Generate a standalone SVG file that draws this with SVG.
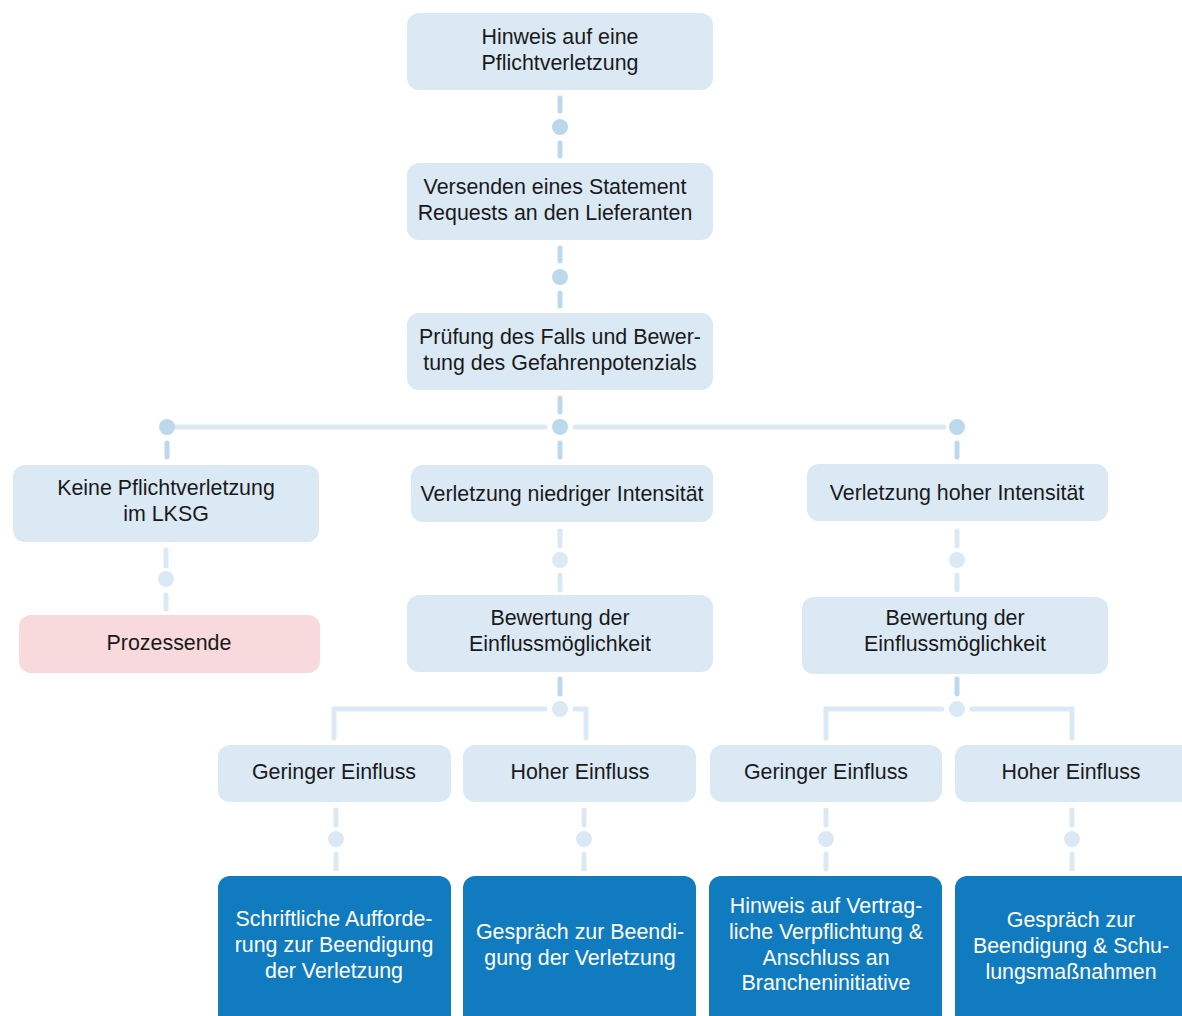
<svg xmlns="http://www.w3.org/2000/svg" width="1182" height="1016" viewBox="0 0 1182 1016">
<style>
.b{fill:#dbe9f5}
.e{fill:#f8dadd}
.d{fill:#117bc0}
.t{font-family:"Liberation Sans",Arial,sans-serif;font-size:21.4px;fill:#1a1a1a;text-anchor:middle}
.w{fill:#ffffff}
.ld{stroke:#bcd9ec;stroke-width:5;stroke-linecap:round;fill:none}
.ll{stroke:#dbe9f5;stroke-width:5;stroke-linecap:round;fill:none}
.cd{fill:#bcd9ec}
.cl{fill:#dbe9f5}
</style>
<rect width="1182" height="1016" fill="#ffffff"/>
<g id="connectors">
<line class="ld" x1="560" y1="98" x2="560" y2="111"/>
<circle class="cd" cx="560" cy="127" r="8"/>
<line class="ld" x1="560" y1="143" x2="560" y2="156"/>
<line class="ld" x1="560" y1="248" x2="560" y2="261"/>
<circle class="cd" cx="560" cy="277" r="8"/>
<line class="ld" x1="560" y1="293" x2="560" y2="306"/>
<line class="ld" x1="560" y1="398" x2="560" y2="412"/>
<line class="ll" x1="175" y1="427" x2="545" y2="427"/>
<line class="ll" x1="575" y1="427" x2="944" y2="427"/>
<circle class="cd" cx="167" cy="427" r="8"/>
<circle class="cd" cx="560" cy="427" r="8"/>
<circle class="cd" cx="957" cy="427" r="8"/>
<line class="ld" x1="167" y1="443" x2="167" y2="457"/>
<line class="ld" x1="560" y1="443" x2="560" y2="457"/>
<line class="ld" x1="957" y1="443" x2="957" y2="457"/>
<line class="ll" x1="166" y1="550" x2="166" y2="566"/>
<circle class="cl" cx="166" cy="579" r="8"/>
<line class="ll" x1="166" y1="595" x2="166" y2="609"/>
<line class="ll" x1="560" y1="531" x2="560" y2="546"/>
<circle class="cl" cx="560" cy="560" r="8"/>
<line class="ll" x1="560" y1="575" x2="560" y2="590"/>
<line class="ll" x1="957" y1="531" x2="957" y2="546"/>
<circle class="cl" cx="957" cy="560" r="8"/>
<line class="ll" x1="957" y1="575" x2="957" y2="590"/>
<line class="ld" x1="560" y1="679" x2="560" y2="694"/>
<circle class="cl" cx="560" cy="709" r="8"/>
<polyline class="ll" points="334,738 334,709 545,709"/>
<polyline class="ll" points="575,709 586,709 586,738"/>
<line class="ld" x1="957" y1="679" x2="957" y2="694"/>
<circle class="cl" cx="957" cy="709" r="8"/>
<polyline class="ll" points="826,738 826,709 942,709"/>
<polyline class="ll" points="972,709 1072,709 1072,738"/>
<line class="ll" x1="336" y1="810" x2="336" y2="825"/>
<circle class="cl" cx="336" cy="839" r="8"/>
<line class="ll" x1="336" y1="854" x2="336" y2="869"/>
<line class="ll" x1="584" y1="810" x2="584" y2="825"/>
<circle class="cl" cx="584" cy="839" r="8"/>
<line class="ll" x1="584" y1="854" x2="584" y2="869"/>
<line class="ll" x1="826" y1="810" x2="826" y2="825"/>
<circle class="cl" cx="826" cy="839" r="8"/>
<line class="ll" x1="826" y1="854" x2="826" y2="869"/>
<line class="ll" x1="1072" y1="810" x2="1072" y2="825"/>
<circle class="cl" cx="1072" cy="839" r="8"/>
<line class="ll" x1="1072" y1="854" x2="1072" y2="869"/>
</g>
<g id="n1"><rect class="b" x="407" y="13" width="306" height="77" rx="12"/><text class="t" x="560" y="44">Hinweis auf eine</text><text class="t" x="560" y="70">Pflichtverletzung</text></g>
<g id="n2"><rect class="b" x="407" y="163" width="306" height="77" rx="12"/><text class="t" x="555" y="194">Versenden eines Statement</text><text class="t" x="555" y="220">Requests an den Lieferanten</text></g>
<g id="n3"><rect class="b" x="407" y="313" width="306" height="77" rx="12"/><text class="t" x="560" y="344">Prüfung des Falls und Bewer-</text><text class="t" x="560" y="370">tung des Gefahrenpotenzials</text></g>
<g id="n4"><rect class="b" x="13" y="465" width="306" height="77" rx="12"/><text class="t" x="166" y="495">Keine Pflichtverletzung</text><text class="t" x="166" y="521">im LKSG</text></g>
<g id="n5"><rect class="b" x="411" y="465" width="302" height="57" rx="12"/><text class="t" x="562" y="501">Verletzung niedriger Intensität</text></g>
<g id="n6"><rect class="b" x="807" y="464" width="301" height="57" rx="12"/><text class="t" x="957" y="500">Verletzung hoher Intensität</text></g>
<g id="n7"><rect class="e" x="19" y="615" width="301" height="58" rx="12"/><text class="t" x="169" y="650">Prozessende</text></g>
<g id="n8"><rect class="b" x="407" y="595" width="306" height="77" rx="12"/><text class="t" x="560" y="625">Bewertung der</text><text class="t" x="560" y="651">Einflussmöglichkeit</text></g>
<g id="n9"><rect class="b" x="802" y="597" width="306" height="77" rx="12"/><text class="t" x="955" y="625">Bewertung der</text><text class="t" x="955" y="651">Einflussmöglichkeit</text></g>
<g id="n10"><rect class="b" x="218" y="745" width="233" height="57" rx="12"/><text class="t" x="334" y="779">Geringer Einfluss</text></g>
<g id="n11"><rect class="b" x="463" y="745" width="233" height="57" rx="12"/><text class="t" x="580" y="779">Hoher Einfluss</text></g>
<g id="n12"><rect class="b" x="710" y="745" width="232" height="57" rx="12"/><text class="t" x="826" y="779">Geringer Einfluss</text></g>
<g id="n13"><rect class="b" x="955" y="745" width="240" height="57" rx="12"/><text class="t" x="1071" y="779">Hoher Einfluss</text></g>
<g id="n14"><rect class="d" x="218" y="876" width="233" height="160" rx="12"/><text class="t w" x="334" y="926">Schriftliche Aufforde-</text><text class="t w" x="334" y="952">rung zur Beendigung</text><text class="t w" x="334" y="978">der Verletzung</text></g>
<g id="n15"><rect class="d" x="463" y="876" width="233" height="160" rx="12"/><text class="t w" x="580" y="939">Gespräch zur Beendi-</text><text class="t w" x="580" y="965">gung der Verletzung</text></g>
<g id="n16"><rect class="d" x="709" y="876" width="233" height="160" rx="12"/><text class="t w" x="826" y="913">Hinweis auf Vertrag-</text><text class="t w" x="826" y="939">liche Verpflichtung &amp;</text><text class="t w" x="826" y="965">Anschluss an</text><text class="t w" x="826" y="990">Brancheninitiative</text></g>
<g id="n17"><rect class="d" x="955" y="876" width="240" height="160" rx="12"/><text class="t w" x="1071" y="927">Gespräch zur</text><text class="t w" x="1071" y="953">Beendigung &amp; Schu-</text><text class="t w" x="1071" y="979">lungsmaßnahmen</text></g>
</svg>
